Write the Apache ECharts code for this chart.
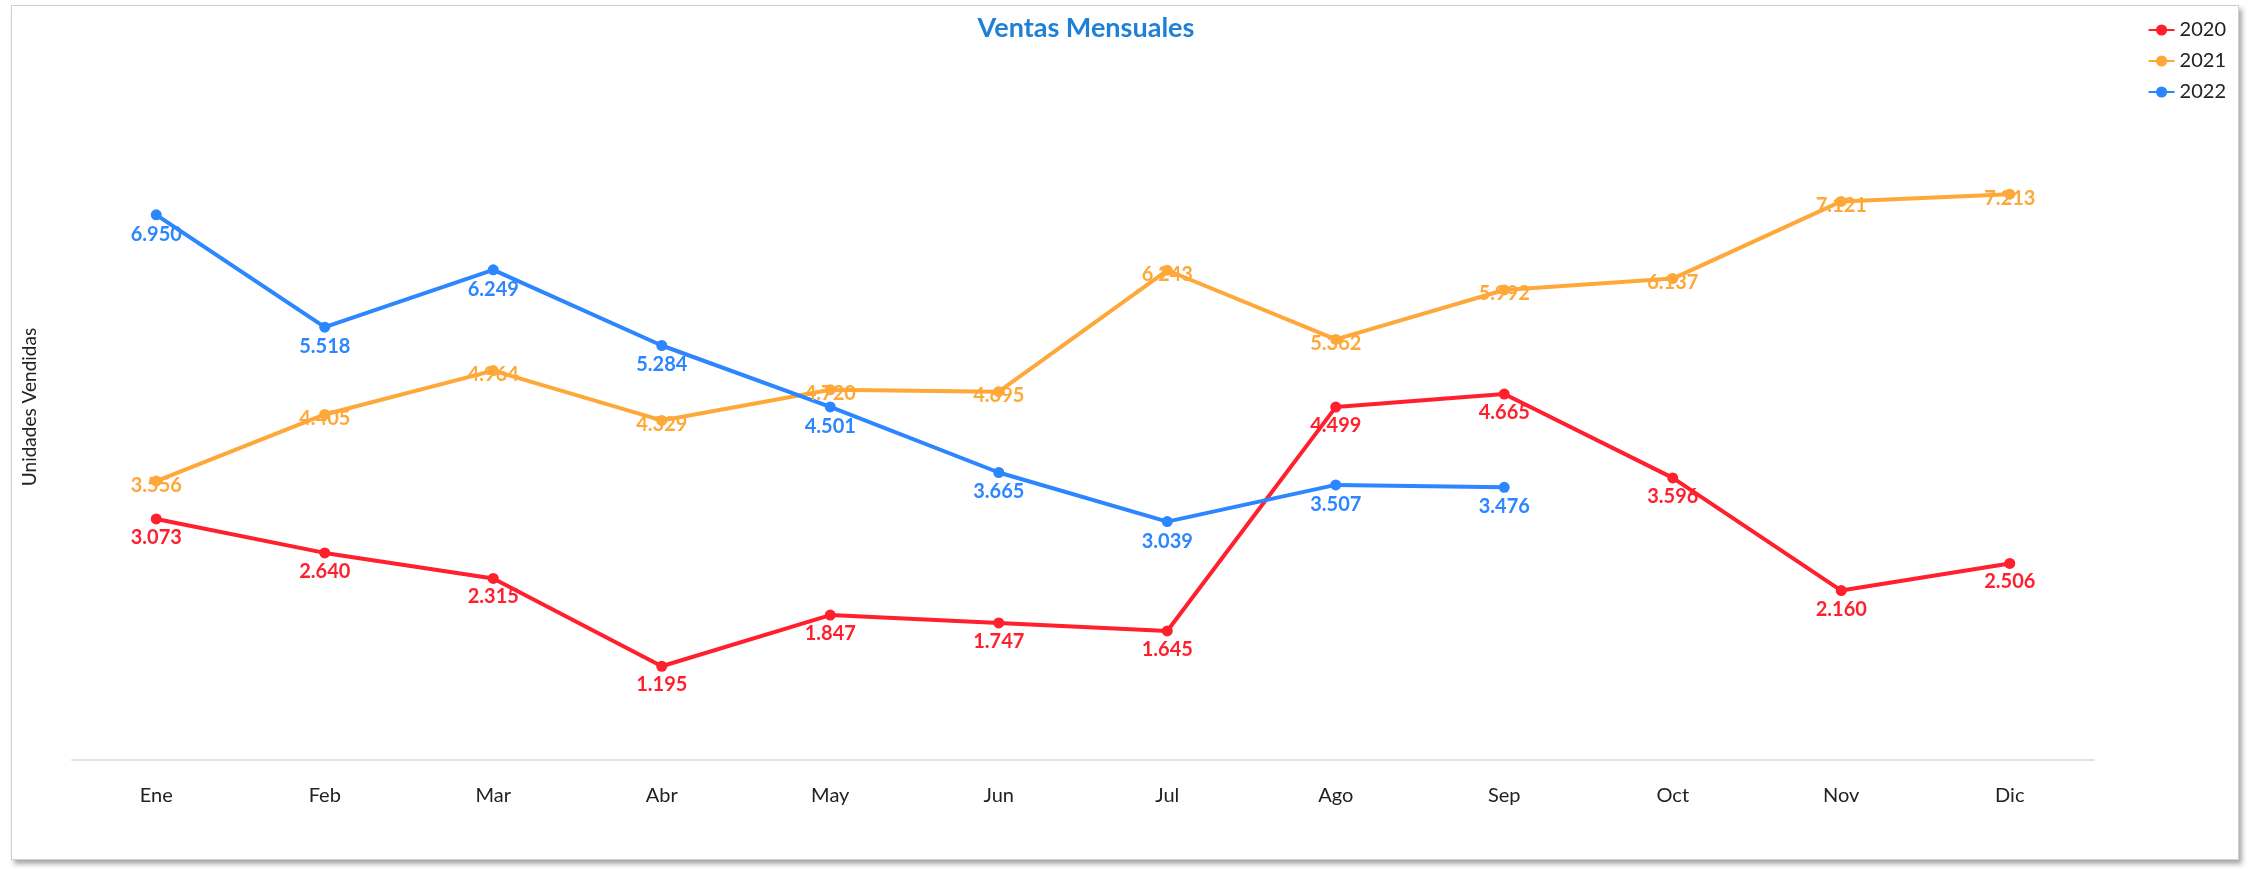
<!DOCTYPE html>
<html>
<head>
<meta charset="utf-8">
<script src="https://cdn.jsdelivr.net/npm/echarts@6/dist/echarts.min.js"></script>
<style>
    html, body { margin: 0; padding: 0; background: #fff; }
    #frame {
        position: absolute; left: 11px; top: 5px; width: 2226px; height: 853px;
        border: 1px solid #d0d0d0; box-shadow: 3px 4px 5px rgba(0, 0, 0, 0.35);
        background: #fff;
    }
    #main { position: absolute; left: 0; top: 0; width: 2249px; height: 869px; }
</style>
</head>
<body>
<div id="frame"></div>
<div id="main"></div>
<script>
    // datos
    const meses = ['Ene', 'Feb', 'Mar', 'Abr', 'May', 'Jun', 'Jul', 'Ago', 'Sep', 'Oct', 'Nov', 'Dic'];
    const ventas2020 = [3073, 2640, 2315, 1195, 1847, 1747, 1645, 4499, 4665, 3596, 2160, 2506];
    const ventas2021 = [3556, 4405, 4964, 4329, 4720, 4695, 6243, 5362, 5992, 6137, 7121, 7213];
    const ventas2022 = [6950, 5518, 6249, 5284, 4501, 3665, 3039, 3507, 3476];

    const fuente = 'Lato';
    // separador de miles con punto
    const miles = p => String(p.value).replace(/\B(?=(\d{3})+(?!\d))/g, '.');

    function serie(nombre, datos, color, etiqueta) {
        return {
            name: nombre,
            type: 'line',
            data: datos,
            symbol: 'circle',
            symbolSize: 11,
            lineStyle: { width: 4, color: color },
            itemStyle: { color: color },
            label: Object.assign({
                show: true,
                color: color,
                fontFamily: fuente,
                fontWeight: 'bold',
                fontSize: 20,
                formatter: miles
            }, etiqueta)
        };
    }

    const myChart = echarts.init(document.getElementById('main'));

    let option = {
        animation: false,
        textStyle: { fontFamily: fuente },
        title: {
            text: 'Ventas Mensuales',
            left: 1081,
            textAlign: 'center',
            top: 10,
            textStyle: { color: '#1f80d8', fontSize: 27, fontWeight: 'bold', fontFamily: fuente }
        },
        legend: {
            orient: 'vertical',
            right: 18,
            top: 15,
            itemGap: 11,
            itemWidth: 26,
            itemHeight: 14,
            textStyle: { fontSize: 20, color: '#222', fontFamily: fuente },
            data: ['2020', '2021', '2022']
        },
        grid: { left: 72, right: 155, top: 54, bottom: 109 },
        xAxis: {
            type: 'category',
            data: meses,
            axisLine: { lineStyle: { color: '#e2e2e2', width: 2 } },
            axisTick: { show: false },
            axisLabel: { color: '#222', fontSize: 20, margin: 26, fontFamily: fuente }
        },
        yAxis: {
            type: 'value',
            min: 0,
            max: 9000,
            name: 'Unidades Vendidas',
            nameLocation: 'middle',
            nameGap: 33,
            nameTextStyle: { color: '#222', fontSize: 19, fontFamily: fuente },
            axisLabel: { show: false },
            axisLine: { show: false },
            axisTick: { show: false },
            splitLine: { show: false }
        },
        series: [
            serie('2020', ventas2020, '#ff1f2d', { position: 'bottom', distance: 3 }),
            serie('2021', ventas2021, '#ffa83a', { position: 'inside', offset: [0, 4] }),
            serie('2022', ventas2022, '#2b86ff', { position: 'bottom', distance: 4 })
        ]
    };

    myChart.setOption(option);
</script>
</body>
</html>
